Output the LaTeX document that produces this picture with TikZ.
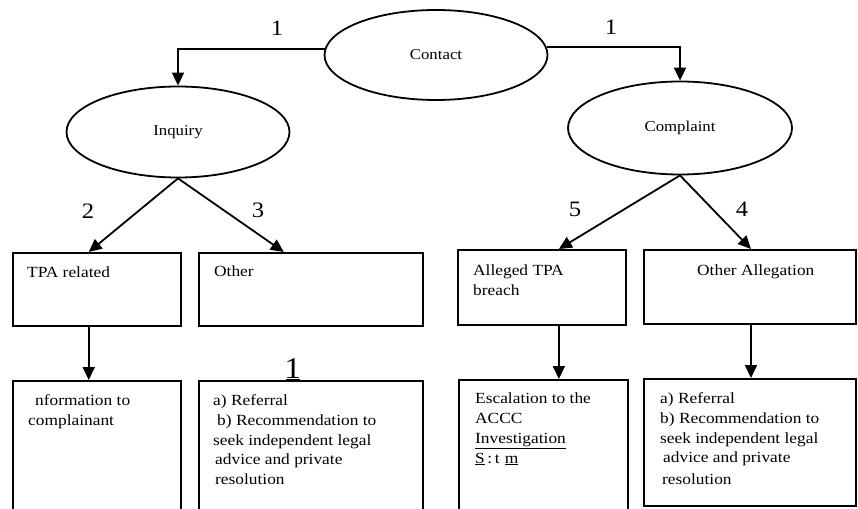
\documentclass[tikz,border=0pt]{standalone}
\usepackage{fontspec}
\setmainfont{Liberation Serif}[FakeStretch=1.12]
\usetikzlibrary{arrows.meta,shapes.geometric,calc}
\begin{document}
\begin{tikzpicture}[x=1pt,y=-1pt,
  ell/.style={draw,ellipse,line width=1.8pt,inner sep=0,font=\fontsize{15}{18}\selectfont},
  box/.style={draw,line width=1.8pt,inner sep=0,anchor=north west},
  txt/.style={anchor=base west,inner sep=0,font=\fontsize{15.5}{20}\selectfont},
  num/.style={font=\fontsize{22}{22}\selectfont,inner sep=0},
  arr/.style={line width=1.8pt,-{Triangle[width=12pt,length=13pt]}}]
\useasboundingbox (0,0) rectangle (858,508);
\clip (0,0) rectangle (858,508);
% ellipses
\node[ell,minimum width=223pt,minimum height=90pt] (contact) at (436,55) {Contact};
\node[ell,minimum width=223pt,minimum height=91pt] (inq) at (178,132) {Inquiry};
\node[ell,minimum width=224pt,minimum height=93pt] (comp) at (680,128) {Complaint};
% top boxes
\node[box,minimum width=168pt,minimum height=73pt] (tpa) at (12,252) {};
\node[box,minimum width=224pt,minimum height=73pt] (oth) at (198,252) {};
\node[box,minimum width=168pt,minimum height=75pt] (alg) at (457,249) {};
\node[box,minimum width=212pt,minimum height=74pt] (oall) at (643,249) {};
% bottom boxes
\node[box,minimum width=168pt,minimum height=140pt] (info) at (12,380) {};
\node[box,minimum width=224pt,minimum height=140pt] (ref1) at (198,380) {};
\node[box,minimum width=169pt,minimum height=140pt] (esc) at (458,379) {};
\node[box,minimum width=212pt,minimum height=127pt] (ref2) at (643,378) {};
% connectors
\draw[arr] (contact.177) -| (inq.north);
\draw[arr] (contact.4) -| (comp.north);
\coordinate (tpaN) at ($(tpa.north west)!0.452!(tpa.north east)$);
\coordinate (othN) at ($(oth.north west)!0.38!(oth.north east)$);
\coordinate (algN) at ($(alg.north west)!0.60!(alg.north east)$);
\coordinate (oallN) at ($(oall.north west)!0.505!(oall.north east)$);
\draw[arr] (inq.south) -- (tpaN);
\draw[arr] (inq.south) -- (othN);
\draw[arr] (comp.south) -- (algN);
\draw[arr] (comp.south) -- (oallN);
\coordinate (tpaS) at ($(tpa.south west)!0.452!(tpa.south east)$);
\coordinate (algS) at ($(alg.south west)!0.60!(alg.south east)$);
\coordinate (oallS) at ($(oall.south west)!0.505!(oall.south east)$);
\draw[arr] (tpaS) -- (tpaS |- info.north);
\draw[arr] (algS) -- (algS |- esc.north);
\draw[arr] (oallS) -- (oallS |- ref2.north);
% stub over ref1
\coordinate (stub) at ($(ref1.north west)!0.42!(ref1.north east)$);
\node[num,anchor=south,font=\fontsize{30}{30}\selectfont] (one3) at ($(stub)+(0,-1)$) {1};
\draw[line width=3pt] ($(stub)+(-7,0)$) -- ($(stub)+(7,0)$);
% numbers
\node[num] (one1) at (277,28) {1};
\node[num] (one2) at (611,27) {1};
\node[num] (n2) at (88,211) {2};
\node[num] (n3) at (258,210) {3};
\node[num] (n5) at (575,209) {5};
\node[num] (n4) at (742,209) {4};
% box texts
\node[txt] (t1) at (27,277) {TPA related};
\node[txt] (t2) at (214,276) {Other};
\node[txt] (t3) at (473,275) {Alleged TPA};
\node[txt] (t3b) at (473,295) {breach};
\node[txt] (t4) at (697,275) {Other Allegation};
% bottom texts
\node[txt] (b1) at (35,405) {nformation to};
\node[txt] (b1b) at (28,425) {complainant};
\node[txt] (r1a) at (213,405) {a) Referral};
\node[txt] (r1b) at (217,425) {b) Recommendation to};
\node[txt] (r1c) at (213,445) {seek independent legal};
\node[txt] (r1d) at (215,464) {advice and private};
\node[txt] (r1e) at (215,484) {resolution};
\node[txt] (e1) at (475,403) {Escalation to the};
\node[txt] (e2) at (475,423) {ACCC};
\node[txt] (e3) at (475,443) {\underline{Investigation}};
\node[txt] (e4) at (475,463) {\underline{S}\,:\,t\,\,\underline{m}};
\node[txt] (r2a) at (660,403) {a) Referral};
\node[txt] (r2b) at (660,423) {b) Recommendation to};
\node[txt] (r2c) at (660,443) {seek independent legal};
\node[txt] (r2d) at (663,462) {advice and private};
\node[txt] (r2e) at (662,484) {resolution};
\end{tikzpicture}
\end{document}
